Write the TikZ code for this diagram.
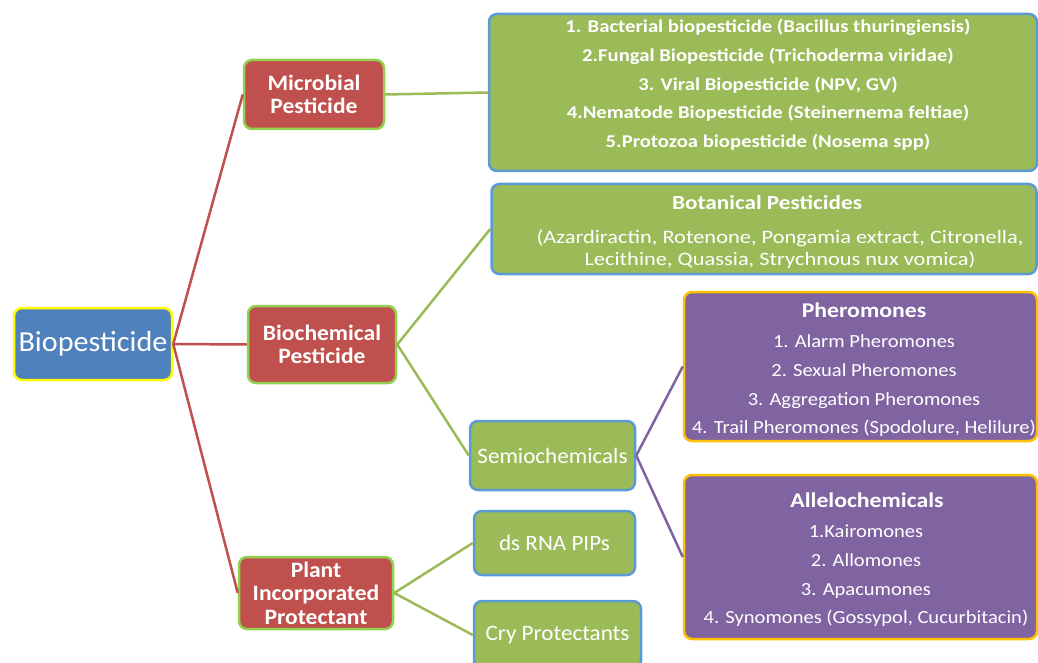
\documentclass[tikz,border=0pt]{standalone}
\usepackage{fontspec}
\setmainfont{Carlito}
\newfontfamily\fRoot[FakeStretch=1.04]{Carlito}
\newfontfamily\fRed[FakeStretch=1.07]{Carlito}
\newfontfamily\fGreen[FakeStretch=1.05]{Carlito}
\newfontfamily\fList[FakeStretch=1.15]{Carlito}
\newfontfamily\fBotT[FakeStretch=1.16]{Carlito}
\newfontfamily\fBotL[FakeStretch=1.18]{Carlito}
\newfontfamily\fPurT[FakeStretch=1.13]{Carlito}
\newfontfamily\fPurL[FakeStretch=1.11]{Carlito}
\definecolor{cblue}{HTML}{4F81BD}
\definecolor{cyel}{HTML}{FFFF00}
\definecolor{cred}{HTML}{C0504D}
\definecolor{cgreen}{HTML}{9BBB59}
\definecolor{clgreen}{HTML}{92D050}
\definecolor{cbord}{HTML}{5B9BD5}
\definecolor{cpurple}{HTML}{8064A2}
\definecolor{corange}{HTML}{FFC000}
\begin{document}
\begin{tikzpicture}[x=1pt,y=-1pt,
  box/.style={rectangle, rounded corners=8pt, line width=2.5pt, inner sep=0pt, align=center, text=white},
  rootbox/.style={box, fill=cblue, draw=cyel, font=\fRoot\fontsize{29}{32}\selectfont},
  redbox/.style={box, fill=cred, draw=clgreen, font=\fRed\fontsize{22}{23.5}\selectfont\bfseries},
  greenbox/.style={box, fill=cgreen, draw=cbord, font=\fGreen\fontsize{22}{24}\selectfont},
  purplebox/.style={box, fill=cpurple, draw=corange},
  txt/.style={align=center, text=white, inner sep=0pt},
  redline/.style={draw=cred, line width=2.5pt},
  greenline/.style={draw=cgreen, line width=2.5pt},
  purpleline/.style={draw=cpurple, line width=2.5pt}]
\useasboundingbox (0,0) rectangle (1038,663);
\clip (0,0) rectangle (1038,663);

% main nodes
\node[rootbox, minimum width=158pt, minimum height=72pt] (bio) at (93,344) {Biopesticide};
\node[redbox, minimum width=140pt, minimum height=69pt] (micro) at (314,94.5) {Microbial\\Pesticide};
\node[redbox, minimum width=148pt, minimum height=77pt] (biochem) at (322,344.5) {Biochemical\\Pesticide};
\node[redbox, minimum width=154pt, minimum height=72pt] (plant) at (316,593) {Plant\\Incorporated\\Protectant};

\node[greenbox, minimum width=548pt, minimum height=157pt] (mlist) at (763,92.5) {};
\node[txt, font=\fList\fontsize{18}{28.7}\selectfont\bfseries] (mlistT) at (768,85)
  {1. Bacterial biopesticide (Bacillus thuringiensis)\\
   2.Fungal Biopesticide (Trichoderma viridae)\\
   3. Viral Biopesticide (NPV, GV)\\
   4.Nematode Biopesticide (Steinernema feltiae)\\
   5.Protozoa biopesticide (Nosema spp)};

\node[greenbox, minimum width=545pt, minimum height=90pt] (botan) at (764,229) {};
\node[txt, font=\fBotT\fontsize{20}{22}\selectfont\bfseries] (botanT) at (767,203) {Botanical Pesticides};
\node[txt, font=\fBotL\fontsize{19}{22}\selectfont] (botanL) at (780,249)
  {(Azardiractin, Rotenone, Pongamia extract, Citronella,\\Lecithine, Quassia, Strychnous nux vomica)};

\node[greenbox, minimum width=165pt, minimum height=69pt] (semio) at (552.5,455.5) {Semiochemicals};
\node[greenbox, minimum width=161pt, minimum height=64pt] (dsrna) at (554.5,543) {ds RNA PIPs};
\node[greenbox, minimum width=167pt, minimum height=68pt] (cry) at (557.5,635) {Cry Protectants};

\node[purplebox, minimum width=353pt, minimum height=149pt] (pher) at (860.5,366.5) {};
\node[txt, font=\fPurT\fontsize{21}{23}\selectfont\bfseries] (pherT) at (864,310) {Pheromones};
\node[txt, font=\fPurL\fontsize{18.5}{28.7}\selectfont] (pherL) at (864,386)
  {1. Alarm Pheromones\\2. Sexual Pheromones\\3. Aggregation Pheromones\\4. Trail Pheromones (Spodolure, Helilure)};

\node[purplebox, minimum width=353pt, minimum height=164pt] (allel) at (860.5,557) {};
\node[txt, font=\fPurT\fontsize{21}{23}\selectfont\bfseries] (allelT) at (867,500) {Allelochemicals};
\node[txt, font=\fPurL\fontsize{18.5}{28.7}\selectfont] (allelL) at (866,576)
  {1.Kairomones\\2. Allomones\\3. Apacumones\\4. Synomones (Gossypol, Cucurbitacin)};

% connectors
\draw[redline] (bio.east) -- (micro.west);
\draw[redline] (bio.east) -- (biochem.west);
\draw[redline] (bio.east) -- (plant.west);
\draw[greenline] (micro.east) -- (mlist.west);
\draw[greenline] (biochem.east) -- (botan.west);
\draw[greenline] (biochem.east) -- (semio.west);
\draw[greenline] (plant.east) -- (dsrna.west);
\draw[greenline] (plant.east) -- (cry.west);
\draw[purpleline] (semio.east) -- (pher.west);
\draw[purpleline] (semio.east) -- (allel.west);
\end{tikzpicture}
\end{document}
